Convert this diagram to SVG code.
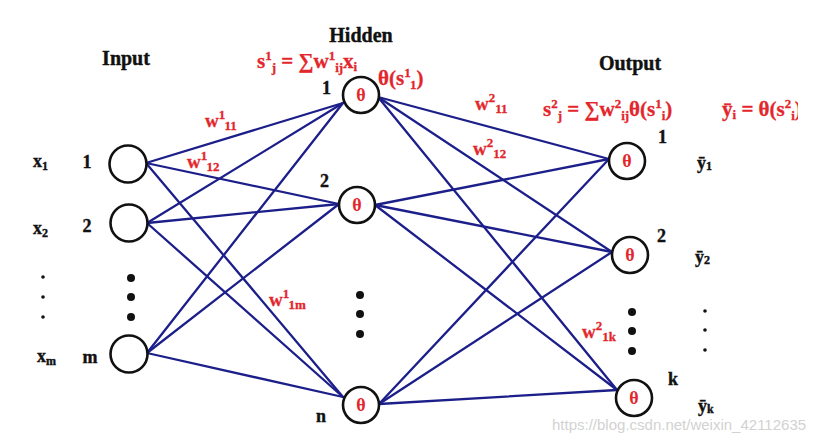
<svg xmlns="http://www.w3.org/2000/svg" width="831" height="444" viewBox="0 0 831 444">
<style>
.bg{fill:#ffffff}
.edge{stroke:#1c1f8a;stroke-width:2.3;fill:none;stroke-linecap:round}
.node{fill:#ffffff;stroke:#111111;stroke-width:2.6}
.th{font-family:"Liberation Serif","DejaVu Serif",serif;font-weight:bold;font-size:18px;fill:#e3262b;text-anchor:middle}
.red{font-family:"Liberation Serif","DejaVu Serif",serif;font-weight:bold;font-size:21px;fill:#e3262b;stroke:#e3262b;stroke-width:0.3}
.red .s{font-size:13px}
.w{font-family:"Liberation Serif","DejaVu Serif",serif;font-weight:bold;font-size:19px;fill:#e3262b;stroke:#e3262b;stroke-width:0.3}
.w .s{font-size:13px}
.blk{font-family:"Liberation Serif","DejaVu Serif",serif;font-weight:bold;font-size:18px;fill:#111111;stroke:#111111;stroke-width:0.4}
.title{font-family:"Liberation Serif","DejaVu Serif",serif;font-weight:bold;font-size:20px;fill:#111111;stroke:#111111;stroke-width:0.4}
.s{font-size:12px}
.dot{fill:#111111}
.wm{font-family:"Liberation Sans","DejaVu Sans",sans-serif;font-size:15px;fill:#d2d2d2}
</style>
<defs>
<clipPath id="clipR"><rect x="700" y="88" width="98" height="44"/></clipPath>
</defs>
<rect class="bg" x="0" y="0" width="831" height="444"/>

<g id="connectors">
<line class="edge" x1="146" y1="163" x2="343" y2="103"/>
<line class="edge" x1="146" y1="163" x2="339" y2="204"/>
<line class="edge" x1="146" y1="163" x2="343" y2="397"/>
<line class="edge" x1="147" y1="223" x2="343" y2="103"/>
<line class="edge" x1="147" y1="223" x2="339" y2="204"/>
<line class="edge" x1="147" y1="223" x2="343" y2="397"/>
<line class="edge" x1="147" y1="353" x2="343" y2="103"/>
<line class="edge" x1="147" y1="353" x2="339" y2="204"/>
<line class="edge" x1="147" y1="353" x2="343" y2="397"/>
<line class="edge" x1="378" y1="97" x2="609" y2="159"/>
<line class="edge" x1="378" y1="97" x2="612" y2="252"/>
<line class="edge" x1="378" y1="97" x2="617" y2="390"/>
<line class="edge" x1="375" y1="205" x2="609" y2="159"/>
<line class="edge" x1="375" y1="205" x2="612" y2="252"/>
<line class="edge" x1="375" y1="205" x2="617" y2="390"/>
<line class="edge" x1="379" y1="404" x2="609" y2="159"/>
<line class="edge" x1="379" y1="404" x2="612" y2="252"/>
<line class="edge" x1="379" y1="404" x2="617" y2="390"/>
</g>

<g id="titles">
<text class="title" x="126" y="65" text-anchor="middle">Input</text>
<text class="title" x="361" y="42" text-anchor="middle">Hidden</text>
<text class="title" x="630" y="70" text-anchor="middle">Output</text>
</g>

<g id="input1">
<circle class="node" cx="128" cy="164" r="18.5"/>
<text class="blk" x="33" y="167">x<tspan class="s" dy="3">1</tspan></text>
<text class="blk" x="87" y="168" text-anchor="middle">1</text>
</g>
<g id="input2">
<circle class="node" cx="129" cy="223" r="18.5"/>
<text class="blk" x="33" y="234">x<tspan class="s" dy="3">2</tspan></text>
<text class="blk" x="87" y="232" text-anchor="middle">2</text>
</g>
<g id="inputDots">
<circle class="dot" cx="131" cy="278" r="4"/>
<circle class="dot" cx="131" cy="297" r="4"/>
<circle class="dot" cx="131" cy="317" r="4"/>
<circle class="dot" cx="43" cy="277" r="1.8"/>
<circle class="dot" cx="43" cy="297" r="1.8"/>
<circle class="dot" cx="43" cy="317" r="1.8"/>
</g>
<g id="inputm">
<circle class="node" cx="129" cy="354" r="18.5"/>
<text class="blk" x="37" y="362">x<tspan class="s" dy="3">m</tspan></text>
<text class="blk" x="90" y="363" text-anchor="middle">m</text>
</g>

<g id="hidden1">
<circle class="node" cx="361" cy="95" r="18"/>
<text class="th" x="361" y="101">θ</text>
<text class="blk" x="322" y="94">1</text>
</g>
<g id="hidden2">
<circle class="node" cx="357" cy="205" r="18"/>
<text class="th" x="357" y="211">θ</text>
<text class="blk" x="320" y="187">2</text>
</g>
<g id="hiddenDots">
<circle class="dot" cx="360" cy="295" r="4"/>
<circle class="dot" cx="360" cy="314" r="4"/>
<circle class="dot" cx="360" cy="334" r="4"/>
</g>
<g id="hiddenn">
<circle class="node" cx="361" cy="405" r="18"/>
<text class="th" x="361" y="411">θ</text>
<text class="blk" x="316" y="422">n</text>
</g>

<g id="output1">
<circle class="node" cx="627" cy="161" r="18"/>
<text class="th" x="627" y="167">θ</text>
<text class="blk" x="658" y="143">1</text>
<text class="blk" x="697" y="169">ȳ<tspan class="s" dy="1">1</tspan></text>
</g>
<g id="output2">
<circle class="node" cx="630" cy="255" r="18"/>
<text class="th" x="630" y="261">θ</text>
<text class="blk" x="657" y="242">2</text>
<text class="blk" x="695" y="263">ȳ<tspan class="s" dy="1">2</tspan></text>
</g>
<g id="outputDots">
<circle class="dot" cx="632" cy="312" r="4"/>
<circle class="dot" cx="632" cy="331" r="4"/>
<circle class="dot" cx="632" cy="351" r="4"/>
<circle class="dot" cx="705" cy="311" r="1.8"/>
<circle class="dot" cx="705" cy="330" r="1.8"/>
<circle class="dot" cx="705" cy="350" r="1.8"/>
</g>
<g id="outputk">
<circle class="node" cx="634" cy="398" r="18"/>
<text class="th" x="634" y="404">θ</text>
<text class="blk" x="668" y="385">k</text>
<text class="blk" x="698" y="412">ȳ<tspan class="s" dy="1">k</tspan></text>
</g>

<g id="formulas">
<text class="red" x="257" y="68">s<tspan class="s" dy="-8">1</tspan><tspan class="s" dy="12">j</tspan><tspan dy="-4"> = ∑w</tspan><tspan class="s" dy="-8">1</tspan><tspan class="s" dy="12">ij</tspan><tspan dy="-4">x</tspan><tspan class="s" dy="3">i</tspan></text>
<text class="red" x="378" y="85">θ(s<tspan class="s" dy="-8">1</tspan><tspan class="s" dy="12">1</tspan><tspan dy="-4">)</tspan></text>
<text class="red" x="543" y="116">s<tspan class="s" dy="-8">2</tspan><tspan class="s" dy="12">j</tspan><tspan dy="-4"> = ∑w</tspan><tspan class="s" dy="-8">2</tspan><tspan class="s" dy="12">ij</tspan><tspan dy="-4">θ(s</tspan><tspan class="s" dy="-8">1</tspan><tspan class="s" dy="12">i</tspan><tspan dy="-4">)</tspan></text>
<text class="red" x="722" y="116" clip-path="url(#clipR)">ȳ<tspan class="s" dy="3">i</tspan><tspan dy="-3"> = θ(s</tspan><tspan class="s" dy="-8">2</tspan><tspan class="s" dy="12">i</tspan><tspan dy="-4">)</tspan></text>
</g>

<g id="weights">
<text class="w" x="205" y="127">w<tspan class="s" dy="-8">1</tspan><tspan class="s" dy="11">11</tspan></text>
<text class="w" x="187" y="168">w<tspan class="s" dy="-8">1</tspan><tspan class="s" dy="11">12</tspan></text>
<text class="w" x="269" y="306">w<tspan class="s" dy="-8">1</tspan><tspan class="s" dy="11">1m</tspan></text>
<text class="w" x="475" y="110">w<tspan class="s" dy="-8">2</tspan><tspan class="s" dy="11">11</tspan></text>
<text class="w" x="473" y="155">w<tspan class="s" dy="-8">2</tspan><tspan class="s" dy="11">12</tspan></text>
<text class="w" x="582" y="338">w<tspan class="s" dy="-8">2</tspan><tspan class="s" dy="11">1k</tspan></text>
</g>

<text class="wm" x="552" y="430">https://blog.csdn.net/weixin_42112635</text>
</svg>
